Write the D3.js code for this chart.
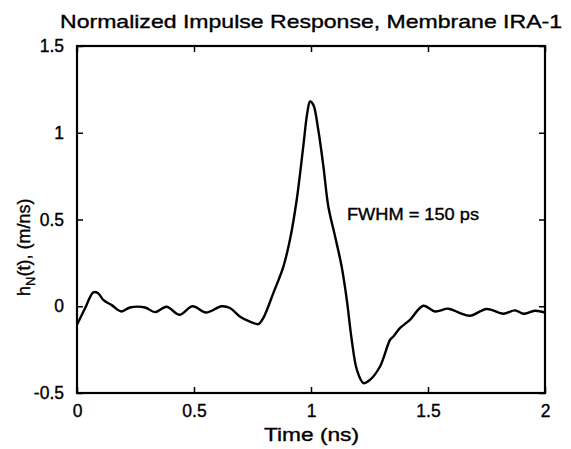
<!DOCTYPE html>
<html><head><meta charset="utf-8">
<script src="https://cdn.jsdelivr.net/npm/d3@7"></script>
<style>body{margin:0;background:#fff}svg{display:block}text{font-family:"Liberation Sans",Arial,Helvetica,sans-serif;fill:#000;stroke:#000;stroke-width:0.35px}</style>
</head><body>
<script>
const timeNs = [0.000,0.035,0.070,0.090,0.112,0.150,0.190,0.226,0.291,0.333,0.383,0.437,0.494,0.551,0.618,0.654,0.697,0.739,0.775,0.796,0.839,0.882,0.910,0.939,0.967,0.984,0.996,1.010,1.031,1.053,1.074,1.103,1.131,1.153,1.174,1.196,1.224,1.252,1.295,1.338,1.352,1.380,1.423,1.480,1.530,1.587,1.637,1.679,1.751,1.822,1.872,1.907,1.957,2.000];
const hN = [-0.107,-0.010,0.080,0.075,0.037,0.005,-0.030,-0.007,-0.007,-0.034,-0.003,-0.049,0.000,-0.036,0.000,-0.010,-0.060,-0.088,-0.103,-0.068,0.076,0.229,0.383,0.614,0.921,1.113,1.180,1.161,1.017,0.806,0.575,0.402,0.229,0.037,-0.193,-0.366,-0.443,-0.424,-0.347,-0.193,-0.174,-0.126,-0.078,0.003,-0.030,-0.014,-0.039,-0.055,-0.016,-0.043,-0.024,-0.043,-0.026,-0.036];
const xTicks = [0, 0.5, 1, 1.5, 2];
const yTicks = [-0.5, 0, 0.5, 1, 1.5];
const titleText = "Normalized Impulse Response, Membrane IRA-1";
const xLabel = "Time (ns)";
const annotation = "FWHM = 150 ps";

const W = 571, H = 449;
const svg = d3.select("body").append("svg").attr("width", W).attr("height", H);
const x = d3.scaleLinear().domain([0, 2]).range([77, 545]);
const y = d3.scaleLinear().domain([-0.5, 1.5]).range([393, 46]);

const fmt = d => String(d);
const tl = 6;
svg.append("g").attr("transform", `translate(0,${y(-0.5)})`)
  .call(d3.axisBottom(x).tickValues(xTicks).tickFormat(fmt).tickSizeInner(-tl).tickSizeOuter(0).tickPadding(12))
  .call(g => g.select(".domain").remove())
  .call(g => g.selectAll("line").attr("stroke", "#000").attr("stroke-width", 1.5))
  .call(g => g.selectAll("text").attr("font-size", 17.5).attr("font-family", "Liberation Sans, Arial, sans-serif"));
svg.append("g").attr("transform", `translate(0,${y(1.5)})`)
  .call(d3.axisTop(x).tickValues(xTicks).tickFormat("").tickSizeInner(-tl).tickSizeOuter(0))
  .call(g => g.select(".domain").remove())
  .call(g => g.selectAll("line").attr("stroke", "#000").attr("stroke-width", 1.5));
svg.append("g").attr("transform", `translate(${x(0)},0)`)
  .call(d3.axisLeft(y).tickValues(yTicks).tickFormat(fmt).tickSizeInner(-tl).tickSizeOuter(0).tickPadding(13))
  .call(g => g.select(".domain").remove())
  .call(g => g.selectAll("line").attr("stroke", "#000").attr("stroke-width", 1.5))
  .call(g => g.selectAll("text").attr("font-size", 17.5).attr("font-family", "Liberation Sans, Arial, sans-serif"));
svg.append("g").attr("transform", `translate(${x(2)},0)`)
  .call(d3.axisRight(y).tickValues(yTicks).tickFormat("").tickSizeInner(-tl).tickSizeOuter(0))
  .call(g => g.select(".domain").remove())
  .call(g => g.selectAll("line").attr("stroke", "#000").attr("stroke-width", 1.5));
svg.append("rect").attr("x", x(0)).attr("y", y(1.5)).attr("width", x(2) - x(0)).attr("height", y(-0.5) - y(1.5))
  .attr("fill", "none").attr("stroke", "#000").attr("stroke-width", 2.2);

const pts = timeNs.map((t, i) => [t, hN[i]]);
svg.append("path").datum(pts)
  .attr("fill", "none").attr("stroke", "#000").attr("stroke-width", 2.4).attr("stroke-linejoin", "round")
  .attr("d", d3.line().x(d => x(d[0])).y(d => y(d[1])).curve(d3.curveCatmullRom.alpha(0.5)));

svg.append("text").attr("x", 60).attr("y", 28).attr("font-size", 18.5)
  .attr("textLength", 502).attr("lengthAdjust", "spacingAndGlyphs").text(titleText);
svg.append("text").attr("x", 264).attr("y", 441).attr("font-size", 18.5)
  .attr("textLength", 95).attr("lengthAdjust", "spacingAndGlyphs").text(xLabel);
svg.append("text").attr("x", 347).attr("y", 220).attr("font-size", 16)
  .attr("textLength", 132).attr("lengthAdjust", "spacingAndGlyphs").text(annotation);
const yl = svg.append("text").attr("transform", "translate(30,296) rotate(-90)").attr("font-size", 18);
yl.append("tspan").text("h");
yl.append("tspan").attr("font-size", 13).attr("dy", 5).text("N");
yl.append("tspan").attr("dy", -5).text("(t), (m/ns)");
</script>
</body></html>
